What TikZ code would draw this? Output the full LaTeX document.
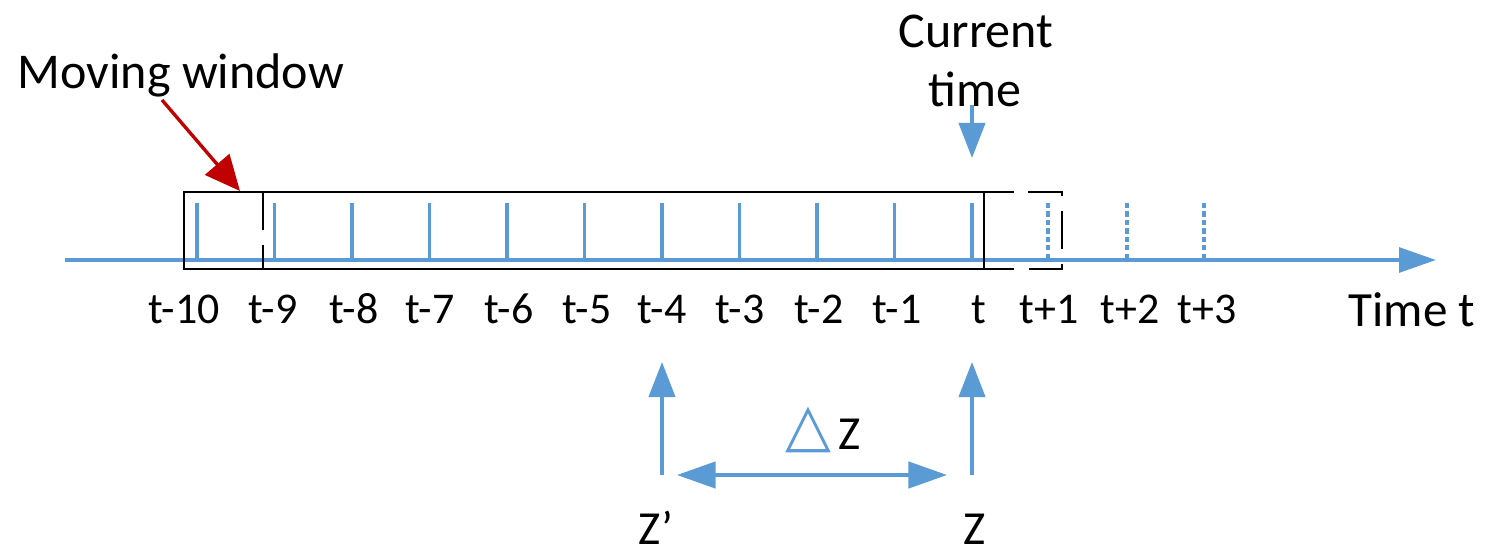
\documentclass[tikz,border=0pt]{standalone}
\usepackage{fontspec}
\setmainfont{Carlito}
\newfontfamily\symfont{DejaVu Sans}
\usetikzlibrary{arrows.meta}
\definecolor{axblue}{RGB}{91,155,213}
\definecolor{wred}{RGB}{192,0,0}
\tikzset{
  axisline/.style={draw=axblue, line width=2.2pt, -{Triangle[length=21pt,width=14pt]}},
  tickline/.style={draw=axblue, line width=1.8pt},
  futuretick/.style={draw=axblue, line width=1.8pt, dash pattern=on 3pt off 1.8pt},
  winbox/.style={draw=black, line width=1.1pt},
  nextbox/.style={draw=black, line width=1.1pt, dash pattern=on 21.5pt off 8.5pt},
  bluearrow/.style={draw=axblue, line width=1.8pt, -{Triangle[length=20pt,width=15pt]}},
  dblarrow/.style={draw=axblue, line width=2pt, {Triangle[length=22pt,width=15pt]}-{Triangle[length=22pt,width=15pt]}},
  redarrow/.style={draw=wred, line width=1.9pt, -{Triangle[length=20pt,width=18pt]}},
  ticklabel/.style={anchor=base, inner sep=0pt, font=\fontsize{25}{30}\selectfont},
  biglabel/.style={anchor=base, inner sep=0pt, font=\fontsize{28.5}{34}\selectfont},
}
\begin{document}
\begin{tikzpicture}[x=0.02cm, y=-0.02cm]
\useasboundingbox (0,0) rectangle (1486,551);

% axis
\coordinate (axstart) at (65,260);
\coordinate (axend) at (1436,260);

% ticks
\foreach \x/\n in {197/m10, 274.5/m9, 352/m8, 429.5/m7, 507/m6, 584.5/m5, 662/m4, 739.5/m3, 817/m2, 894.5/m1, 972/z} {
  \coordinate (top\n) at (\x,203);
  \coordinate (bot\n) at (\x,260);
  \draw[tickline] (top\n) -- (bot\n);
}
\foreach \x/\n in {1048/p1, 1127/p2, 1204/p3} {
  \coordinate (top\n) at (\x,203);
  \coordinate (bot\n) at (\x,260);
  \draw[futuretick] (top\n) -- (bot\n);
}
\draw[axisline] (axstart) -- (axend);

% windows
\coordinate (nw1) at (263,192);
\coordinate (nw2) at (1062,269);
\draw[nextbox] (nw1) rectangle (nw2);
\coordinate (w1) at (184,192);
\coordinate (w2) at (984,269);
\draw[winbox] (w1) rectangle (w2);

% tick labels
\foreach \x/\t/\n in {184/t-10/m10, 273/t-9/m9, 354/t-8/m8, 430/t-7/m7, 509/t-6/m6, 587/t-5/m5, 662/t-4/m4, 740/t-3/m3, 819/t-2/m2, 897/t-1/m1, 979/t/z, 1049/t+1/p1, 1130/t+2/p2, 1207/t+3/p3} {
  \node[ticklabel] (lab\n) at (\x,323) {\t};
}
\node[ticklabel, font=\fontsize{28}{34}\selectfont] (timet) at (1412,326) {Time t};

% moving window label
\node[biglabel] (mw) at (181,88) {Moving window};
\coordinate (mwstart) at (162,100);
\coordinate (mwtip) at (240,191);
\draw[redarrow] (mwstart) -- (mwtip);

% current time
\node[biglabel] (ct1) at (976,47) {Current};
\node[biglabel] (ct2) at (975,106) {time};
\coordinate (ctstart) at (972,105);
\coordinate (cttip) at (972,158);
\draw[bluearrow] (ctstart) -- (cttip);

% Z arrows
\coordinate (zpfoot) at (662,475);
\coordinate (zptip) at (662,362);
\coordinate (zfoot) at (972,475);
\coordinate (ztip) at (972,362);
\draw[bluearrow] (zpfoot) -- (zptip);
\draw[bluearrow] (zfoot) -- (ztip);
\coordinate (dl) at (677,475);
\coordinate (dr) at (947,475);
\draw[dblarrow] (dl) -- (dr);

\node[biglabel, font=\fontsize{27}{32}\selectfont] (dz) at (823,449) {{\color{axblue}\fontsize{34}{40}\symfont\raisebox{2pt}{△}}\hspace{4pt}Z};
\node[biglabel, font=\fontsize{27}{32}\selectfont] (zprime) at (656,544) {Z’};
\node[biglabel, font=\fontsize{27}{32}\selectfont] (zlab) at (975,544) {Z};
\end{tikzpicture}
\end{document}
